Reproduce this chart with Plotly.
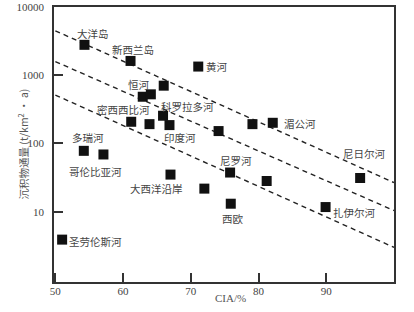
import numpy as np
import plotly.graph_objects as go

# sample points: CIA (%) and sediment flux (t/km2.a)
cia = [54.3, 61.1, 71.1, 62.9, 64.1, 66.0, 61.2, 63.9, 65.9, 66.85,
       54.2, 57.1, 67.0, 72.0, 51.0, 75.8, 81.2, 75.9, 89.9, 95.0,
       74.1, 79.1, 82.1]
flux = [2790, 1620, 1340, 484, 525, 703, 208, 192, 255, 186,
        78, 69, 35, 21.8, 3.9, 37.5, 28.2, 13.1, 11.7, 31.2,
        152, 192, 201]

# three dashed trend lines (start and end values)
line_x = [50, 100]
line_top = [4480, 26.7]
line_mid = [1585, 10.4]
line_low = [513, 3.0]

# labels
lab_text = ["大洋岛", "新西兰岛", "黄河", "恒河", "科罗拉多河", "密西西比河", "印度河",
            "多瑞河", "哥伦比亚河", "大西洋沿岸", "圣劳伦斯河", "尼罗河", "西欧",
            "扎伊尔河", "尼日尔河", "湄公河"]
lab_x = [55.6, 61.5, 73.9, 62.4, 69.5, 60.0, 68.4, 54.75, 55.9, 65.0, 55.9,
         76.7, 76.2, 94.2, 95.6, 86.1]
lab_y = [4050, 2355, 1325, 720, 354, 319, 124, 124, 39.2, 22.0, 3.66,
         56.8, 7.96, 9.8, 71.9, 199]

fig = go.Figure()

for ys in [line_top, line_mid, line_low]:
    fig.add_trace(go.Scatter(x=line_x, y=ys, mode="lines",
                             line=dict(color="#222", width=1.4, dash="5px,4px"),
                             hoverinfo="skip"))

fig.add_trace(go.Scatter(x=cia, y=flux, mode="markers",
                         marker=dict(symbol="square", size=10, color="#111",
                                     line=dict(width=0))))

for t, x, y in zip(lab_text, lab_x, lab_y):
    fig.add_annotation(x=x, y=np.log10(y), text=t, showarrow=False,
                       font=dict(family="Noto Sans CJK SC", size=10.5, color="#444"))

# axis titles
fig.add_annotation(x=-32 / 340, y=0.5, xref="paper", yref="paper", xanchor="center",
                   text="沉积物通量 (t/km<sup>2</sup> · a)", textangle=-90, showarrow=False,
                   font=dict(family="Noto Sans CJK SC", size=10.5, color="#555"))
fig.add_annotation(x=0.52, y=-16 / 275, xref="paper", yref="paper",
                   xanchor="center", yanchor="middle",
                   text="CIA/%", showarrow=False,
                   font=dict(family="Liberation Serif", size=11, color="#555"))

fig.update_layout(
    width=414, height=312,
    margin=dict(l=54, r=20, t=7, b=30),
    paper_bgcolor="white", plot_bgcolor="white",
    showlegend=False,
    font=dict(family="Liberation Serif", size=11, color="#444"),
)
fig.update_xaxes(range=[49.8, 100], tickvals=[50, 60, 70, 80, 90],
                 ticks="inside", ticklen=9, tickwidth=1.5, tickcolor="#333",
                 ticklabelstandoff=-2, automargin=False,
                 showline=True, linecolor="#333", linewidth=1.5, mirror=True,
                 showgrid=False, zeroline=False)
fig.update_yaxes(type="log", range=[-0.03, 4.0], tickvals=[10, 100, 1000, 10000],
                 ticktext=["10", "100", "1000", "10000"],
                 ticks="inside", ticklen=9, tickwidth=1.5, tickcolor="#333",
                 ticklabelstandoff=6, automargin=False,
                 showline=True, linecolor="#333", linewidth=1.5, mirror=True,
                 showgrid=False, zeroline=False)

# drop the page's default 8px body margin so the figure sits at the corner
fig.write_html("out.html", config={"displayModeBar": False},
               post_script="document.body.style.margin='0px';")
